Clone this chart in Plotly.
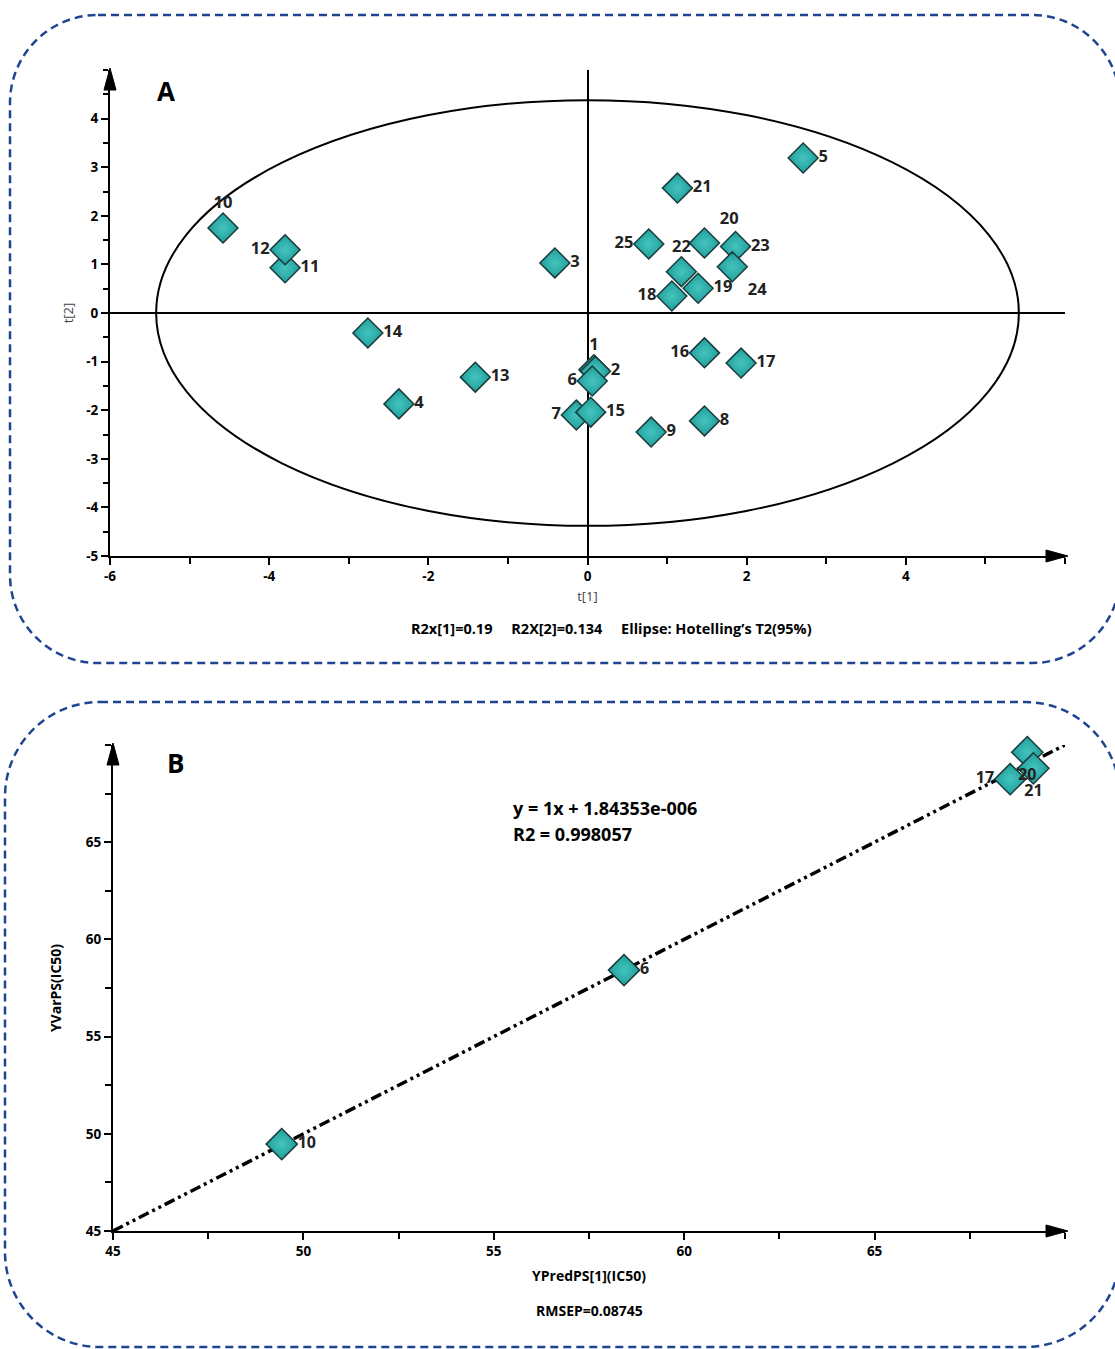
import plotly.graph_objects as go

W, H = 1115, 1349

# ---------------- Panel A data: PCA scores ----------------
obs_ids = [str(i) for i in range(1, 26)]
t1 = [0.08, 0.10, -0.41, -2.37, 2.71, 0.06, -0.14, 1.47, 0.80, -4.58,
      -3.80, -3.80, -1.41, -2.76, 0.04, 1.47, 1.93, 1.06, 1.39, 1.47,
      1.13, 1.18, 1.86, 1.82, 0.77]
t2 = [-1.17, -1.20, 1.03, -1.87, 3.19, -1.40, -2.10, -2.22, -2.45, 1.75,
      0.93, 1.30, -1.32, -0.41, -2.04, -0.82, -1.03, 0.35, 0.51, 1.44,
      2.57, 0.85, 1.37, 0.95, 1.42]
label_pos_A = ["top center", "middle right", "middle right", "middle right", "middle right",
               "middle left", "middle left", "middle right", "middle right", "top center",
               "middle right", "middle left", "middle right", "middle right", "middle right",
               "middle left", "middle right", "middle left", "middle right", "top right",
               "middle right", "top center", "middle right", "bottom right", "middle left"]
ellipse_t1 = 5.42   # Hotelling T2 (95%) semi-axis on t[1]
ellipse_t2 = 4.38   # Hotelling T2 (95%) semi-axis on t[2]

a_xtick_vals = [-6, -4, -2, 0, 2, 4]
a_xtick_text = ["-6", "-4", "-2", "0", "2", "4"]
a_ytick_vals = [-5, -4, -3, -2, -1, 0, 1, 2, 3, 4]
a_ytick_text = ["-5", "-4", "-3", "-2", "-1", "0", "1", "2", "3", "4"]

# ---------------- Panel B data: predicted vs observed ----------------
pred_ids = ["10", "6", "17", "20", "21"]
y_pred = [49.43, 58.42, 68.56, 69.01, 69.17]
y_obs = [49.47, 58.42, 68.24, 69.63, 68.80]
label_pos_B = ["middle right", "middle right", "middle left", "bottom center", "bottom center"]
fit_slope = 1.0
fit_intercept = 1.84353e-6
fit_x = [45, 70]
fit_y = [fit_slope * v + fit_intercept for v in fit_x]

b_tick_vals = [45, 50, 55, 60, 65]
b_tick_text = ["45", "50", "55", "60", "65"]

# ---------------- helpers (pixel -> paper) ----------------
def px(x):
    return x / W

def py(y):
    return 1 - y / H

def rounded_rect(x0, y0, x1, y1, r):
    k = 0.5523 * r
    def P(x, y):
        return f"{px(x):.5f},{py(y):.5f}"
    d = f"M {P(x0 + r, y0)} L {P(x1 - r, y0)} "
    d += f"C {P(x1 - r + k, y0)} {P(x1, y0 + r - k)} {P(x1, y0 + r)} "
    d += f"L {P(x1, y1 - r)} "
    d += f"C {P(x1, y1 - r + k)} {P(x1 - r + k, y1)} {P(x1 - r, y1)} "
    d += f"L {P(x0 + r, y1)} "
    d += f"C {P(x0 + r - k, y1)} {P(x0, y1 - r + k)} {P(x0, y1 - r)} "
    d += f"L {P(x0, y0 + r)} "
    d += f"C {P(x0, y0 + r - k)} {P(x0 + r - k, y0)} {P(x0 + r, y0)} Z"
    return d

def tri(points):
    return "M " + " L ".join(f"{px(a):.5f},{py(b):.5f}" for a, b in points) + " Z"

FONT = "Open Sans, DejaVu Sans, sans-serif"
TEAL = "#1f9e9b"
TEAL_HI = "#45c4bf"
EDGE = "#1b3b3c"

fig = go.Figure()

fig.add_trace(go.Scatter(
    x=t1, y=t2, text=obs_ids, mode="markers+text", textposition=label_pos_A,
    xaxis="x", yaxis="y",
    marker=dict(symbol="diamond", size=23, color=TEAL,
                gradient=dict(type="radial", color=TEAL_HI),
                line=dict(color=EDGE, width=1.5)),
    textfont=dict(family=FONT, size=16.5, color="#222222", weight="bold"),
    showlegend=False, cliponaxis=False,
))

fig.add_trace(go.Scatter(
    x=fit_x, y=fit_y, mode="lines", xaxis="x2", yaxis="y2",
    line=dict(color="black", width=3.5, dash="11px,4px,3px,4px,3px,4px"),
    showlegend=False,
))

fig.add_trace(go.Scatter(
    x=y_pred, y=y_obs, text=pred_ids, mode="markers+text", textposition=label_pos_B,
    xaxis="x2", yaxis="y2",
    marker=dict(symbol="diamond", size=24, color=TEAL,
                gradient=dict(type="radial", color=TEAL_HI),
                line=dict(color=EDGE, width=1.5)),
    textfont=dict(family=FONT, size=16, color="#222222", weight="bold"),
    showlegend=False, cliponaxis=False,
))

tickfont = dict(family=FONT, size=13.5, color="black", weight="bold")
common = dict(showgrid=False, showline=True, linecolor="black", linewidth=2,
              ticks="outside", ticklen=7, tickwidth=2, tickcolor="black",
              tickfont=tickfont, tickmode="array", automargin=False)

fig.update_layout(
    width=W, height=H,
    margin=dict(l=0, r=0, t=0, b=0, pad=0, autoexpand=False),
    paper_bgcolor="white", plot_bgcolor="white",
    xaxis=dict(domain=[px(110), px(1065)], range=[-6, 6], anchor="y",
               tickvals=a_xtick_vals, ticktext=a_xtick_text,
               minor=dict(tickmode="linear", tick0=-6, dtick=1, ticks="outside",
                          ticklen=6, tickwidth=2, tickcolor="black"),
               zeroline=True, zerolinecolor="black", zerolinewidth=2,
               title=dict(text="t[1]", standoff=8,
                          font=dict(family=FONT, size=13, color="#444444")),
               **common),
    yaxis=dict(domain=[py(556), py(70)], range=[-5, 5], anchor="x",
               tickvals=a_ytick_vals, ticktext=a_ytick_text,
               minor=dict(tickmode="linear", tick0=-5, dtick=0.5, ticks="outside",
                          ticklen=5, tickwidth=2, tickcolor="black"),
               zeroline=True, zerolinecolor="black", zerolinewidth=2,
               title=dict(text="t[2]", standoff=10,
                          font=dict(family=FONT, size=13, color="#444444")),
               **common),
    xaxis2=dict(domain=[px(113), px(1065)], range=[45, 70], anchor="y2",
                tickvals=b_tick_vals, ticktext=b_tick_text,
                minor=dict(tickmode="linear", tick0=45, dtick=2.5, ticks="outside",
                           ticklen=6, tickwidth=2, tickcolor="black"),
                zeroline=False,
                title=dict(text="YPredPS[1](IC50)", standoff=12,
                           font=dict(family=FONT, size=14, color="black", weight="bold")),
                **common),
    yaxis2=dict(domain=[py(1231), py(745)], range=[45, 70], anchor="x2",
                tickvals=b_tick_vals, ticktext=b_tick_text,
                minor=dict(tickmode="linear", tick0=45, dtick=2.5, ticks="outside",
                           ticklen=6, tickwidth=2, tickcolor="black"),
                zeroline=False,
                title=dict(text="YVarPS(IC50)", standoff=21,
                           font=dict(family=FONT, size=14, color="black", weight="bold")),
                **common),
)

shapes = [
    # Hotelling T2 ellipse
    dict(type="circle", xref="x", yref="y", x0=-ellipse_t1, x1=ellipse_t1,
         y0=-ellipse_t2, y1=ellipse_t2, line=dict(color="black", width=2), layer="below"),
    # dashed rounded panel frames
    dict(type="path", xref="paper", yref="paper", path=rounded_rect(10, 15, 1120, 663, 88),
         line=dict(color="#1f4591", width=2.5, dash="8px,5px")),
    dict(type="path", xref="paper", yref="paper", path=rounded_rect(5, 702, 1120, 1347, 95),
         line=dict(color="#1f4591", width=2.5, dash="8px,5px")),
    # axis arrowheads
    dict(type="path", xref="paper", yref="paper", path=tri([(104, 90), (116, 90), (110, 68)]),
         fillcolor="black", line=dict(color="black", width=1)),
    dict(type="path", xref="paper", yref="paper", path=tri([(1046, 550), (1046, 562), (1068, 556)]),
         fillcolor="black", line=dict(color="black", width=1)),
    dict(type="path", xref="paper", yref="paper", path=tri([(107, 765), (119, 765), (113, 743)]),
         fillcolor="black", line=dict(color="black", width=1)),
    dict(type="path", xref="paper", yref="paper", path=tri([(1046, 1225), (1046, 1237), (1068, 1231)]),
         fillcolor="black", line=dict(color="black", width=1)),
]
fig.update_layout(shapes=shapes)

ann_font = dict(family=FONT, color="black", weight="bold")
annotations = [
    dict(text="A", x=px(166), y=py(91), font=dict(size=26, **ann_font)),
    dict(text="B", x=px(175), y=py(763), font=dict(size=26, **ann_font)),
    dict(text="R2x[1]=0.19     R2X[2]=0.134     Ellipse: Hotelling\u2019s T2(95%)",
         x=px(611), y=py(629), font=dict(size=14.5, **ann_font)),
    dict(text="y = 1x + 1.84353e-006", x=px(511), y=py(808), xanchor="left",
         font=dict(size=18, **ann_font)),
    dict(text="R2 = 0.998057", x=px(511), y=py(834), xanchor="left",
         font=dict(size=18, **ann_font)),
    dict(text="RMSEP=0.08745", x=px(589), y=py(1310), font=dict(size=14, **ann_font)),
]
for a in annotations:
    a.update(xref="paper", yref="paper", showarrow=False)
    a.setdefault("xanchor", "center")
    a.setdefault("yanchor", "middle")
fig.update_layout(annotations=annotations)

fig.write_html(
    "out.html",
    config={"displayModeBar": False},
    post_script="document.body.style.margin='0';document.body.style.padding='0';"
                "document.documentElement.style.overflow='hidden';",
)
